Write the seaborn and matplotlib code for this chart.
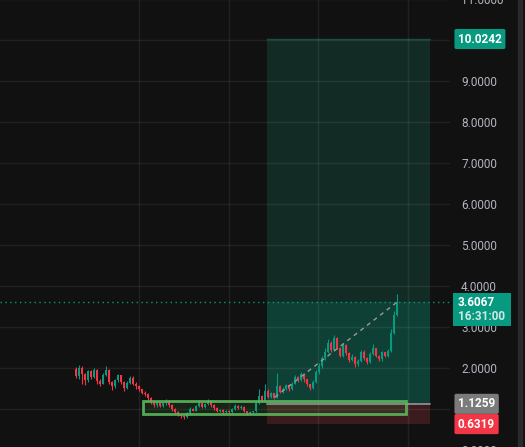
import numpy as np
import pandas as pd
import seaborn as sns
import matplotlib.pyplot as plt
from matplotlib.patches import Rectangle
from matplotlib.transforms import blended_transform_factory

# velas (OHLC)
opens = [1.98, 1.80, 2.00, 1.85, 1.70, 1.92, 1.78, 1.95, 1.68, 1.62,
         1.84, 1.96, 1.66, 1.55, 1.70, 1.82, 1.66, 1.52, 1.64, 1.76,
         1.62, 1.55, 1.48, 1.40, 1.36, 1.28, 1.18, 1.10, 1.16, 1.08,
         1.14, 1.20, 1.10, 1.00, 0.92, 0.86, 0.82, 0.80, 0.90, 1.00,
         0.96, 1.08, 1.14, 1.05, 1.12, 1.20, 1.10, 1.02, 0.95, 0.98,
         0.92, 0.96, 0.93, 1.00, 1.08, 1.02, 1.06, 0.95, 0.90, 0.92,
         0.94, 1.15, 1.32, 1.20, 1.45, 1.30, 1.38, 1.28, 1.55, 1.42,
         1.50, 1.58, 1.48, 1.62, 1.78, 1.70, 1.86, 1.72, 1.60, 1.52,
         1.66, 1.90, 2.05, 2.25, 2.40, 2.62, 2.45, 2.72, 2.50, 2.30,
         2.55, 2.36, 2.20, 2.28, 2.10, 2.18, 2.40, 2.25, 2.15, 2.35,
         2.48, 2.30, 2.22, 2.38, 2.30, 2.42, 2.85, 3.30]
highs = [2.02, 2.08, 2.04, 1.88, 1.96, 1.94, 2.00, 1.97, 1.72, 1.88,
         2.05, 1.98, 1.68, 1.74, 1.86, 1.84, 1.68, 1.68, 1.80, 1.80,
         1.66, 1.58, 1.50, 1.44, 1.38, 1.30, 1.20, 1.20, 1.18, 1.16,
         1.24, 1.22, 1.12, 1.02, 0.94, 0.88, 0.84, 0.92, 1.04, 1.02,
         1.10, 1.22, 1.16, 1.15, 1.24, 1.22, 1.12, 1.04, 1.00, 1.00,
         0.98, 0.98, 1.02, 1.12, 1.10, 1.10, 1.08, 0.96, 0.94, 0.96,
         1.20, 1.48, 1.34, 1.60, 1.48, 1.42, 1.40, 1.88, 1.58, 1.54,
         1.62, 1.60, 1.66, 1.84, 1.80, 1.90, 1.88, 1.74, 1.62, 1.70,
         1.95, 2.12, 2.30, 2.48, 2.70, 2.65, 2.80, 2.75, 2.52, 2.60,
         2.58, 2.40, 2.34, 2.30, 2.22, 2.45, 2.44, 2.28, 2.40, 2.58,
         2.50, 2.32, 2.42, 2.40, 2.46, 2.95, 3.40, 3.80]
lows = [1.76, 1.74, 1.62, 1.58, 1.66, 1.72, 1.75, 1.62, 1.56, 1.60,
        1.80, 1.62, 1.46, 1.52, 1.66, 1.62, 1.44, 1.48, 1.60, 1.58,
        1.50, 1.44, 1.36, 1.32, 1.22, 1.12, 1.04, 1.06, 1.04, 1.05,
        1.10, 1.06, 0.96, 0.88, 0.84, 0.78, 0.76, 0.78, 0.88, 0.94,
        0.94, 1.04, 1.02, 1.02, 1.10, 1.06, 0.98, 0.92, 0.92, 0.88,
        0.90, 0.90, 0.90, 0.98, 1.00, 1.00, 0.92, 0.86, 0.88, 0.90,
        0.92, 1.12, 1.16, 1.18, 1.26, 1.26, 1.24, 1.26, 1.38, 1.40,
        1.46, 1.44, 1.46, 1.60, 1.66, 1.68, 1.66, 1.56, 1.46, 1.50,
        1.64, 1.86, 2.00, 2.20, 2.36, 2.40, 2.42, 2.46, 2.26, 2.26,
        2.32, 2.14, 2.16, 2.02, 2.06, 2.14, 2.20, 2.10, 2.12, 2.32,
        2.26, 2.16, 2.18, 2.26, 2.26, 2.40, 2.82, 3.26]
closes = [1.80, 2.00, 1.85, 1.70, 1.92, 1.78, 1.95, 1.68, 1.62, 1.84,
          1.96, 1.66, 1.55, 1.70, 1.82, 1.66, 1.52, 1.64, 1.76, 1.62,
          1.55, 1.48, 1.40, 1.36, 1.28, 1.18, 1.10, 1.16, 1.08, 1.14,
          1.20, 1.10, 1.00, 0.92, 0.86, 0.82, 0.80, 0.90, 1.00, 0.96,
          1.08, 1.14, 1.05, 1.12, 1.20, 1.10, 1.02, 0.95, 0.98, 0.92,
          0.96, 0.93, 1.00, 1.08, 1.02, 1.06, 0.95, 0.90, 0.92, 0.94,
          1.15, 1.32, 1.20, 1.45, 1.30, 1.38, 1.28, 1.55, 1.42, 1.50,
          1.58, 1.48, 1.62, 1.78, 1.70, 1.86, 1.72, 1.60, 1.52, 1.66,
          1.90, 2.05, 2.25, 2.40, 2.62, 2.45, 2.72, 2.50, 2.30, 2.55,
          2.36, 2.20, 2.28, 2.10, 2.18, 2.40, 2.25, 2.15, 2.35, 2.48,
          2.30, 2.22, 2.38, 2.30, 2.42, 2.85, 3.30, 3.6067]

# herramienta de posicion larga
target = 10.0242
entry = 1.1259
stop = 0.6319
last_price = 3.6067
last_time = '16:31:00'
tool_start, tool_end = 63.7, 118
# caja de rango / acumulacion
range_start, range_end = 22.3, 110
range_low, range_high = 0.88, 1.2
# linea punteada entrada -> precio actual
dash_x = [66.3, 107]
dash_y = [1.29, last_price]

price_ticks = list(range(0, 12))
# 10 y 1 quedan tapados por las etiquetas de la posicion
hidden_ticks = [10, 1]
time_grid = [21, 51, 80.7, 110.7]

BG = '#111111'
UP = '#089981'
DOWN = '#f23645'

sns.set_theme(style='dark')
plt.rcParams['font.family'] = ['Roboto', 'DejaVu Sans']

df = pd.DataFrame({'open': opens, 'high': highs, 'low': lows, 'close': closes})
df['idx'] = np.arange(len(df))
colores = np.where(df['close'] >= df['open'], UP, DOWN)

fig = plt.figure(figsize=(5.25, 4.47), dpi=100, facecolor=BG)
ax = fig.add_axes([0, -3 / 447, 450 / 525, 451 / 447])
ax.set_facecolor(BG)

# zonas de la posicion
ax.fill_between([tool_start, tool_end], last_price, target, color='#122b25', lw=0, zorder=1)
ax.fill_between([tool_start, tool_end], entry, last_price, color='#0f4035', lw=0, zorder=1)
ax.fill_between([tool_start, tool_end], stop, entry, color='#3b1b1d', lw=0, zorder=1)
ax.plot([tool_start, tool_end], [target, target], color='#1c4a3f', lw=1, zorder=1.2)
ax.plot([tool_start, tool_end], [entry, entry], color='#8d8d8d', lw=1.3, zorder=1.2)

# grilla
for v in price_ticks:
    ax.axhline(v, color='white', alpha=0.07, lw=1, zorder=1.5)
for t in time_grid:
    ax.axvline(t, color='white', alpha=0.07, lw=1, zorder=1.5)

# caja de rango
ax.add_patch(Rectangle((range_start, range_low), range_end - range_start, range_high - range_low,
                       facecolor='#4caf50', alpha=0.12, lw=0, zorder=2))
ax.add_patch(Rectangle((range_start, range_low), range_end - range_start, range_high - range_low,
                       facecolor='none', edgecolor='#5cb85c', lw=2, alpha=0.9, zorder=4))

# velas
ax.vlines(df['idx'], df['low'], df['high'], colors=colores, lw=0.8, zorder=3)
cuerpo = (df['close'] - df['open']).abs().clip(lower=0.015)
ax.bar(df['idx'], cuerpo, bottom=df[['open', 'close']].min(axis=1), width=0.7,
       color=colores, lw=0, zorder=3)

# linea de entrada a precio actual
sns.lineplot(x=dash_x, y=dash_y, ax=ax, color='#9a9a9a', lw=1, zorder=3.5)
ax.lines[-1].set_dashes([3, 3])
ax.axhline(last_price, color=UP, lw=1, ls=(0, (1, 2.5)), zorder=3.5)

ax.set_xlim(-25.33, 124.67)
ax.set_ylim(0, 11)
ax.yaxis.tick_right()
ax.set_yticks(price_ticks)
ax.set_yticklabels(['' if v in hidden_ticks else f'{v:.4f}' for v in price_ticks])
ax.set_xticks([])
ax.tick_params(axis='y', length=0, pad=8, labelcolor='#b2b5be', labelsize=8.5)
ax.grid(False)
for s in ax.spines.values():
    s.set_visible(False)
ax.set_xlabel('')
ax.set_ylabel('')

# etiquetas del eje de precios
tr = blended_transform_factory(ax.transAxes, ax.transData)
x_lab = 458 / 450
caja = dict(boxstyle='round,pad=0.3,rounding_size=0.15', ec='none')
ax.text(x_lab, target, f'{target:.4f}', transform=tr, ha='left', va='center', color='white',
        fontsize=8.5, fontweight='bold', bbox=dict(caja, fc=UP), clip_on=False, zorder=10)
# etiqueta del precio actual: fondo + dos lineas
ax.add_patch(Rectangle((453 / 450, 3.02), 58 / 450, 0.81, transform=tr, facecolor=UP,
                       lw=0, clip_on=False, zorder=10))
ax.text(x_lab, last_price, f'{last_price:.4f}', transform=tr, ha='left', va='center',
        color='white', fontsize=8.5, fontweight='bold', clip_on=False, zorder=11)
ax.text(x_lab, 3.25, last_time, transform=tr, ha='left', va='center',
        color='#cfe9e3', fontsize=8.5, fontweight='bold', clip_on=False, zorder=11)
ax.text(x_lab, entry, f'{entry:.4f}', transform=tr, ha='left', va='center', color='white',
        fontsize=8.5, fontweight='bold', bbox=dict(caja, fc='#7b7b7b'), clip_on=False, zorder=10)
ax.text(x_lab, stop, f'{stop:.4f}', transform=tr, ha='left', va='center', color='white',
        fontsize=8.5, fontweight='bold', bbox=dict(caja, fc=DOWN), clip_on=False, zorder=10)

# borde derecho
fig.patches.append(Rectangle((518 / 525, 0), 4 / 525, 1, transform=fig.transFigure,
                             color='#2a2a2a', zorder=0))

fig.savefig('out.png', dpi=100, facecolor=BG)
